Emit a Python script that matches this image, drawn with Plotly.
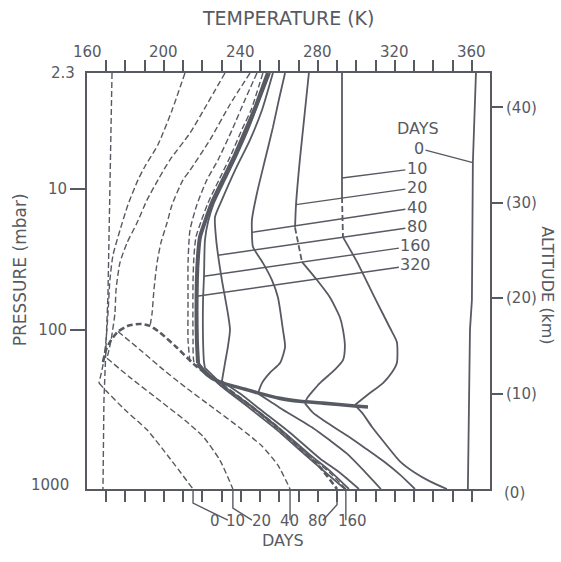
import numpy as np
import plotly.graph_objects as go

INK = "#575a62"
FONT = "DejaVu Sans"

T_RANGE = [160.0, 369.4]   # temperature, K
Z_RANGE = [0.0, 43.6]      # altitude, km

temperature_labels = [160, 200, 240, 280, 320, 360]
temperature_ticks = list(range(170, 361, 10))
pressure_labels = ["2.3", "10", "100", "1000"]
pressure_alt_km = [43.6, 31.45, 16.67, 0.0]
altitude_ticks_km = [10, 20, 30, 40]

# ---- solid temperature profiles (K vs km); "up" = above the kink, "lo" = below it
day0_T = [362.1, 360.5, 360.0, 359.0, 357.9]
day0_z = [43.6, 34.2, 19.8, 16.7, 0.0]

day10_up_T = [292.5, 292.5, 293.0, 300.3, 309.6, 317.4, 321.0, 321.0, 318.4, 313.8, 306.0, 299.2]
day10_up_z = [43.6, 30.6, 26.4, 23.8, 20.0, 16.9, 15.4, 13.2, 12.2, 11.1, 9.9, 8.8]
day10_lo_T = [299.2, 302.9, 308.1, 314.8, 322.6, 330.4, 338.2, 347.0]
day10_lo_z = [8.8, 8.0, 6.5, 4.8, 2.9, 1.7, 0.8, 0.0]

day20_up_T = [275.3, 270.6, 268.6, 268.1, 271.7, 279.5, 286.2, 291.4, 293.0, 294.0, 293.0, 288.8, 281.0, 274.3, 273.2]
day20_up_z = [43.6, 34.5, 29.8, 27.4, 23.8, 21.9, 20.1, 18.0, 16.7, 14.9, 13.5, 12.5, 11.1, 9.5, 9.0]
day20_lo_T = [273.2, 277.4, 283.6, 295.1, 304.4, 314.8, 322.6, 330.4]
day20_lo_z = [9.0, 8.0, 7.1, 5.6, 4.3, 2.8, 1.5, 0.0]

day40_up_T = [262.9, 259.7, 256.6, 252.5, 248.3, 245.7, 245.7, 246.2, 251.4, 256.1, 259.2, 261.8, 262.9, 260.3, 255.1, 250.9, 248.8]
day40_up_z = [43.6, 40.8, 37.9, 34.5, 31.0, 28.2, 26.9, 25.4, 23.7, 21.9, 20.1, 16.7, 14.9, 13.2, 12.2, 11.1, 10.0]
day40_lo_T = [248.8, 260.3, 277.4, 286.2, 295.1, 304.4, 312.7]
day40_lo_z = [10.0, 8.5, 6.4, 5.1, 3.7, 1.8, 0.0]

day80_up_T = [256.6, 250.9, 244.7, 236.9, 230.1, 226.5, 227.0, 228.1, 230.1, 233.2, 234.3, 233.2, 231.7, 230.1]
day80_up_z = [43.6, 39.7, 36.6, 33.4, 30.3, 28.5, 26.4, 24.5, 21.9, 18.4, 16.7, 14.9, 13.2, 11.3]
day80_lo_T = [230.1, 239.5, 250.9, 265.5, 281.0, 291.4, 301.3]
day80_lo_z = [11.3, 10.0, 8.2, 5.9, 3.2, 1.7, 0.0]

day160_up_T = [255.1, 248.8, 244.2, 237.9, 231.7, 226.0, 222.9, 221.3, 220.8, 220.3, 220.3, 220.8, 221.3]
day160_up_z = [43.6, 40.3, 37.9, 35.0, 32.4, 30.0, 28.0, 26.1, 22.3, 19.8, 15.6, 13.3, 12.7]
day160_lo_T = [221.3, 231.7, 244.7, 260.3, 275.8, 286.2, 296.1]
day160_lo_z = [12.7, 10.7, 8.8, 6.3, 3.6, 1.9, 0.0]

day320_up_T = [254.0, 247.3, 243.1, 236.9, 230.6, 224.9, 221.3, 218.7, 217.7, 217.1, 217.1, 217.7]
day320_up_z = [43.6, 39.9, 37.9, 35.0, 32.4, 30.0, 28.0, 26.4, 24.5, 21.9, 15.6, 13.2]
day320_lo_T = [217.7, 229.1, 243.1, 258.7, 273.2, 283.6, 294.0]
day320_lo_z = [13.2, 10.9, 8.7, 6.2, 3.6, 1.8, 0.0]

# altitude stretch (km) drawn dashed on the 10- and 20-day profiles
day10_dashed_km = (26.4, 30.6)
day20_dashed_km = (23.8, 27.4)

# heavy line joining the kinks of the profiles
kink_T = [217.7, 220.3, 224.9, 230.6, 239.5, 248.3, 260.3, 270.6, 282.6, 299.2, 306.0]
kink_z = [13.2, 12.4, 11.6, 11.1, 10.6, 10.1, 9.5, 9.2, 9.0, 8.7, 8.6]

# ---- dashed profiles
iso_T = [173.0, 171.9, 170.9, 169.9, 168.8, 168.3]
iso_z = [43.6, 31.0, 20.5, 15.1, 9.3, 0.0]

dash0_up_T = [210.9, 204.2, 196.9, 190.1, 186.5, 181.3, 177.1, 173.5, 171.9, 170.9, 169.9, 168.3, 166.2]
dash0_up_z = [43.6, 39.7, 36.1, 33.8, 32.4, 29.8, 27.1, 24.5, 21.9, 18.4, 15.6, 13.0, 11.1]
dash0_lo_T = [166.2, 170.4, 179.7, 191.2, 203.1, 215.1]
dash0_lo_z = [11.1, 10.2, 8.3, 6.2, 3.2, 0.0]

dash10_up_T = [231.7, 222.3, 213.5, 203.1, 196.9, 191.2, 186.0, 180.8, 177.1, 175.1, 174.5, 172.5, 170.4]
dash10_up_z = [43.6, 40.3, 37.3, 34.5, 32.4, 30.3, 27.9, 25.8, 23.7, 20.9, 18.4, 15.6, 13.7]
dash10_lo_T = [170.4, 182.3, 199.5, 210.9, 220.3, 229.1, 235.8]
dash10_lo_z = [13.7, 11.7, 9.0, 7.2, 5.5, 3.0, 0.0]

dash20_up_T = [244.7, 234.3, 223.9, 213.5, 209.9, 204.2, 201.6, 198.4, 196.4, 194.8, 193.8, 192.7]
dash20_up_z = [43.6, 40.3, 36.6, 33.4, 32.4, 29.8, 27.9, 25.8, 23.7, 20.9, 18.4, 17.0]

dash40_up_T = [248.3, 242.1, 235.3, 228.1, 222.3, 217.1, 213.5, 212.5, 212.5, 212.5, 213.5]
dash40_up_z = [43.6, 40.8, 37.6, 34.5, 32.4, 29.8, 27.1, 23.7, 19.8, 15.6, 13.3]
dash40_lo_T = [176.1, 187.5, 197.9, 210.9, 224.9, 239.5, 250.9, 259.2, 265.5]
dash40_lo_z = [16.5, 14.6, 12.8, 10.7, 8.6, 6.4, 4.5, 2.5, 0.0]

dash80_T = [168.3, 169.9, 172.5, 176.1, 181.3, 187.5, 192.7, 197.9, 206.8, 217.1, 229.1, 243.1, 257.7, 270.6, 281.0, 289.9]
dash80_z = [13.3, 14.6, 15.6, 16.5, 17.1, 17.3, 17.1, 16.4, 14.8, 12.8, 11.1, 9.0, 6.7, 4.3, 2.3, 0.0]

dash160_T = [251.4, 245.2, 241.0, 234.8, 228.6, 222.9, 219.2, 216.6, 215.6, 215.1, 215.1, 215.6, 218.7,
             231.7, 244.7, 260.3, 275.8, 286.2, 294.5]
dash160_z = [43.6, 39.7, 37.9, 35.0, 32.4, 30.0, 28.0, 26.4, 24.5, 21.9, 15.6, 13.3, 12.6,
             10.5, 8.7, 6.1, 3.4, 1.7, 0.0]

# ---- day labels
right_days = ["0", "10", "20", "40", "80", "160", "320"]
right_label_T = [332.5, 331.4, 331.4, 331.4, 331.4, 330.9, 330.9]
right_label_z = [35.7, 33.6, 31.6, 29.5, 27.5, 25.5, 23.5]
right_leader_z = [34.2, 32.6, 29.8, 26.9, 24.5, 22.3, 20.2]

bottom_days = ["0", "10", "20", "40", "80", "160"]
bottom_label_T = [226.5, 236.9, 250.9, 265.0, 280.0, 297.7]

fig = go.Figure()


def line(T, z, width=1.6, dash="solid", shape="spline"):
    fig.add_trace(go.Scatter(
        x=list(T), y=list(z), mode="lines",
        line=dict(color=INK, width=width, dash=dash, shape=shape, smoothing=0.6),
        hoverinfo="skip", showlegend=False))


def split_by_alt(T, z, lo, hi):
    T = np.asarray(T)
    z = np.asarray(z)
    above = z >= hi
    inside = (z >= lo) & (z <= hi)
    below = z <= lo
    return (T[above], z[above]), (T[inside], z[inside]), (T[below], z[below])


DASH = "6px,3px"

# dashed family
line(iso_T, iso_z, 1.4, DASH, "linear")
line(dash0_up_T, dash0_up_z, 1.4, DASH)
line(dash0_lo_T, dash0_lo_z, 1.4, DASH)
line(dash10_up_T, dash10_up_z, 1.4, DASH)
line(dash10_lo_T, dash10_lo_z, 1.4, DASH)
line(dash20_up_T, dash20_up_z, 1.4, DASH)
line(dash40_up_T, dash40_up_z, 1.4, DASH)
line(dash40_lo_T, dash40_lo_z, 1.4, DASH)
line(dash160_T, dash160_z, 1.4, DASH)
line(dash80_T, dash80_z, 2.6, DASH)

# solid family
line(day0_T, day0_z, 1.8, shape="linear")
for up_T, up_z, span in [(day10_up_T, day10_up_z, day10_dashed_km),
                         (day20_up_T, day20_up_z, day20_dashed_km)]:
    top, mid, bot = split_by_alt(up_T, up_z, *span)
    line(*top, 1.8)
    line(*mid, 1.8, DASH)
    line(*bot, 1.8)
for T, z in [(day10_lo_T, day10_lo_z), (day20_lo_T, day20_lo_z),
             (day40_up_T, day40_up_z), (day40_lo_T, day40_lo_z),
             (day80_up_T, day80_up_z), (day80_lo_T, day80_lo_z),
             (day160_up_T, day160_up_z), (day160_lo_T, day160_lo_z),
             (day320_lo_T, day320_lo_z)]:
    line(T, z, 1.8)
line(day320_up_T, day320_up_z, 4.0)
line(kink_T, kink_z, 3.6)

# keeps the right-hand altitude axis alive
fig.add_trace(go.Scatter(x=[T_RANGE[0]], y=[0], yaxis="y2", mode="markers",
                         marker=dict(opacity=0), hoverinfo="skip", showlegend=False))

txt = dict(family=FONT, color=INK, size=15)
ann = []

# top temperature labels
for t in temperature_labels:
    ann.append(dict(x=t, y=1.05, xref="x", yref="paper", text=str(t), showarrow=False,
                    font=txt, yanchor="middle"))
ann.append(dict(x=0.499, y=1.132, xref="paper", yref="paper", text="TEMPERATURE (K)",
                showarrow=False, xanchor="center", yanchor="middle",
                font=dict(family=FONT, color=INK, size=19)))
# pressure end labels
ann.append(dict(x=0, y=pressure_alt_km[0], xref="paper", yref="y", text=pressure_labels[0],
                showarrow=False, xanchor="right", xshift=-10, font=txt))
ann.append(dict(x=0, y=pressure_alt_km[3], xref="paper", yref="y", text=pressure_labels[3],
                showarrow=False, xanchor="right", xshift=-16, yshift=4, font=txt))
ann.append(dict(x=1, y=0, xref="paper", yref="y", text="(0)", showarrow=False,
                xanchor="left", xshift=12, yshift=-4, font=txt))
ann.append(dict(x=-0.166, y=0.526, xref="paper", yref="paper", text="PRESSURE (mbar)",
                showarrow=False, textangle=-90, xanchor="center", yanchor="middle",
                font=dict(family=FONT, color=INK, size=17)))
ann.append(dict(x=1.144, y=0.49, xref="paper", yref="paper", text="ALTITUDE (km)",
                showarrow=False, textangle=90, xanchor="center", yanchor="middle",
                font=dict(family=FONT, color=INK, size=16)))

# right-hand day key with leaders onto the solid profiles
ann.append(dict(x=331.9, y=37.8, xref="x", yref="y", text="DAYS", showarrow=False,
                font=dict(family=FONT, color=INK, size=16)))
solid_upper = [(day0_T, day0_z), (day10_up_T, day10_up_z), (day20_up_T, day20_up_z),
               (day40_up_T, day40_up_z), (day80_up_T, day80_up_z),
               (day160_up_T, day160_up_z), (day320_up_T, day320_up_z)]
for lab, lt, lz, tz, (T, z) in zip(right_days, right_label_T, right_label_z,
                                   right_leader_z, solid_upper):
    tt = float(np.interp(tz, z[::-1], T[::-1]))
    ann.append(dict(x=tt, y=tz, xref="x", yref="y", ax=lt, ay=lz, axref="x", ayref="y",
                    text=lab, showarrow=True, arrowhead=0, arrowwidth=1.4,
                    arrowcolor=INK, standoff=0, font=dict(family=FONT, color=INK, size=16)))

# bottom day labels for the dashed profiles
for lab, lt in zip(bottom_days, bottom_label_T):
    ann.append(dict(x=lt, y=-0.103, xref="x", yref="paper", text=lab, showarrow=False,
                    font=txt))
ann.append(dict(x=261.8, y=-0.151, xref="x", yref="paper", text="DAYS", showarrow=False,
                font=dict(family=FONT, color=INK, size=16)))

# bent leaders from the surface ends of the dashed profiles down to their labels
surface_T = {"0": dash0_lo_T[-1], "10": dash10_lo_T[-1], "40": dash40_lo_T[-1],
             "80": dash80_T[-1], "160": dash160_T[-1]}
leader_bend = {"0": (-0.034, 233.2), "10": (-0.046, 245.7), "40": (None, None),
               "80": (-0.038, 282.6), "160": (None, None)}
shapes = []
for lab, ts in surface_T.items():
    yb, te = leader_bend[lab]
    if yb is None:
        path = f"M {ts},0 L {ts},-0.075"
    else:
        path = f"M {ts},0 L {ts},{yb} L {te},-0.075"
    shapes.append(dict(type="path", path=path, xref="x", yref="paper",
                       line=dict(color=INK, width=1.4)))

axis_common = dict(showgrid=False, zeroline=False, tickcolor=INK, tickwidth=1.6,
                   linecolor=INK, linewidth=2)
fig.update_layout(
    width=561, height=562,
    margin=dict(l=87, r=71, t=73, b=73),
    paper_bgcolor="white", plot_bgcolor="white",
    font=txt,
    xaxis=dict(range=T_RANGE, tickvals=temperature_ticks, ticks="outside", ticklen=11,
               showticklabels=False, showline=True, mirror="ticks", **axis_common),
    yaxis=dict(range=Z_RANGE, tickvals=pressure_alt_km[1:3], ticktext=pressure_labels[1:3],
               ticks="outside", ticklen=15, showline=True, mirror=True, tickfont=txt,
               **axis_common),
    yaxis2=dict(range=Z_RANGE, overlaying="y", side="right", tickvals=altitude_ticks_km,
                ticktext=[f"({a})" for a in altitude_ticks_km], ticks="outside", ticklen=12,
                showline=False, tickfont=txt, showgrid=False, zeroline=False,
                tickcolor=INK, tickwidth=1.6),
    annotations=ann,
    shapes=shapes,
)

fig.write_html("out.html")
